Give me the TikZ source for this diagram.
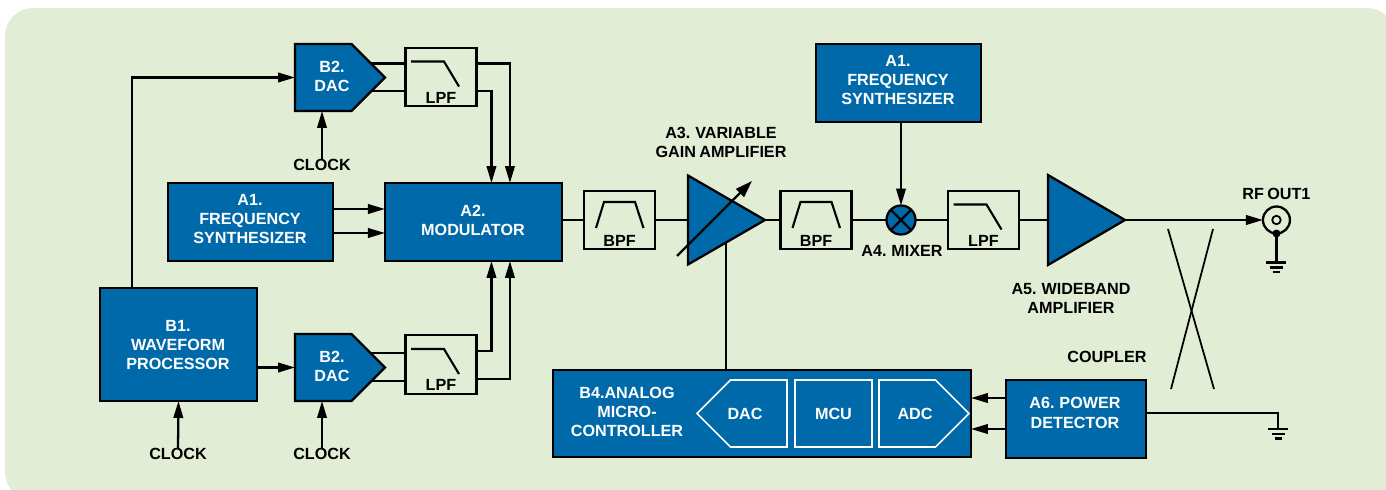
\documentclass[tikz,border=0pt]{standalone}
\usepackage{fontspec}
\setmainfont[WordSpace=0.75]{Liberation Sans}
\usetikzlibrary{positioning,shapes.geometric,shapes.symbols,arrows.meta}
\definecolor{panelgreen}{HTML}{E2EDD5}
\definecolor{blockblue}{HTML}{0069AA}
\begin{document}
\begin{tikzpicture}[x=0.02cm,y=-0.02cm,line width=1.3pt,outer sep=0pt,inner sep=0pt,
    font=\fontsize{9.2}{11}\selectfont\bfseries]
        \tikzstyle{block}=[rectangle, fill=blockblue, draw]
        \tikzstyle{dacblock}=[signal, signal to=east, signal pointer angle=90, fill=blockblue, draw, anchor=west, minimum width=1.8cm, minimum height=1.34cm]
        \tikzstyle{filt}=[rectangle, draw, minimum width=1.42cm, minimum height=1.17cm]
        \tikzstyle{amp}=[isosceles triangle, isosceles triangle stretches, shape border rotate=0, fill=blockblue, draw, minimum width=1.78cm, minimum height=1.54cm]
        \tikzstyle{innerbox}=[draw=white, line width=0.9pt, text=white, minimum height=1.34cm]
        \tikzstyle{tag}=[align=center, text=black]
        \tikzstyle{whitetag}=[align=center, text=white]
        \tikzstyle{wire}=[-{Triangle[length=3.4mm,width=1.9mm]}, line width=1.3pt]
        \useasboundingbox (0,0) rectangle (1386,490);
        \fill[panelgreen, rounded corners=0.56cm] (5,8) rectangle (1395,500);

        % top branch
        \node[dacblock] (DacTop) at (295,77.5) {};
        \node[whitetag] (DacTopName) at (332,76.5) {B2.\\DAC};
        \node[filt] (LpfTop) at (441,77) {};
        \node[tag] (LpfTopName) [above=0.06cm of LpfTop.south] {LPF};
        \node[tag] (ClockTop) at (322,165) {CLOCK};

        % middle row
        \node[block, minimum width=3.3cm, minimum height=1.56cm] (SynthLeft) at (250.5,222) {};
        \node[whitetag] (SynthLeftName) at (250,219) {A1.\\FREQUENCY\\SYNTHESIZER};
        \node[block, minimum width=3.54cm, minimum height=1.56cm] (Mod) [right=1.04cm of SynthLeft] {};
        \node[whitetag] (ModName) at (473,220.5) {A2.\\MODULATOR};
        \node[filt] (BpfOne) at (619.5,220) {};
        \node[tag] (BpfOneName) [above=0.06cm of BpfOne.south] {BPF};
        \node[amp] (AmpVar) [right=0.66cm of BpfOne] {};
        \node[filt] (BpfTwo) at (816,220) {};
        \node[tag] (BpfTwoName) [above=0.06cm of BpfTwo.south] {BPF};
        \node[circle, fill=blockblue, draw, minimum size=0.58cm] (Mix) at (901,220) {};
        \node[filt] (LpfMix) at (983.5,220) {};
        \node[tag] (LpfMixName) [above=0.06cm of LpfMix.south] {LPF};
        \node[amp, minimum width=1.8cm] (AmpWide) [right=0.58cm of LpfMix] {};
        \node[circle, draw, minimum size=0.54cm] (RfOut) [right=2.76cm of AmpWide] {};
        \node[circle, draw, line width=1pt, minimum size=0.17cm] (RfPin) at (RfOut) {};
        \node[circle, fill=black, minimum size=0.16cm] (RfDot) [below=0pt of RfOut.south, yshift=0.08cm] {};
        \coordinate[below=0.58cm of RfOut] (RfGnd);
        \node[tag] (RfName) [above=0.14cm of RfOut] {RF OUT1};
        \node[block, minimum width=3.3cm, minimum height=1.56cm] (SynthTop) at (898.5,83) {};
        \node[whitetag] (SynthTopName) at (898,80) {A1.\\FREQUENCY\\SYNTHESIZER};

        % lower left
        \node[block, minimum width=3.14cm, minimum height=2.26cm] (Wave) at (178.5,344.5) {};
        \node[whitetag] (WaveName) at (178,345) {B1.\\WAVEFORM\\PROCESSOR};
        \node[dacblock] (DacBot) at (295,367.5) {};
        \node[whitetag] (DacBotName) at (332,366.5) {B2.\\DAC};
        \node[filt] (LpfBot) at (441,364.5) {};
        \node[tag] (LpfBotName) [above=0.06cm of LpfBot.south] {LPF};
        \node[tag] (ClockWave) at (178,454) {CLOCK};
        \node[tag] (ClockBot) at (322,454) {CLOCK};

        % controller
        \node[block, minimum width=8.36cm, minimum height=1.74cm] (Ctrl) at (762,413.5) {};
        \node[whitetag] (CtrlName) at (627,412) {B4.ANALOG\\MICRO-\\CONTROLLER};
        \node[innerbox, signal, signal to=west, signal pointer angle=90, minimum width=1.8cm, anchor=east] (CtrlDac) at (787,413.5) {};
        \node[whitetag] (CtrlDacName) at (745,414) {DAC};
        \node[innerbox, minimum width=1.54cm] (CtrlMcu) [right=0.16cm of CtrlDac] {MCU};
        \node[innerbox, signal, signal to=east, signal pointer angle=90, minimum width=1.8cm] (CtrlAdc) [right=0.14cm of CtrlMcu] {};
        \node[whitetag] (CtrlAdcName) at (915,414) {ADC};
        \node[block, minimum width=2.8cm, minimum height=1.56cm] (Det) at (1076,419) {};
        \node[whitetag] (DetName) at (1075,413) {A6. POWER\\DETECTOR};
        \coordinate (DetGnd) at (1278,429);

        % labels
        \node[tag] (AmpVarName) at (721,142.5) {A3. VARIABLE\\GAIN AMPLIFIER};
        \node[tag] (MixName) at (902,251) {A4. MIXER};
        \node[tag] (AmpWideName) at (1071,298.5) {A5. WIDEBAND\\AMPLIFIER};
        \node[tag] (CouplerName) at (1107,357) {COUPLER};

        % connectors
        \draw[wire] (Wave.north -| 132,0) |- (DacTop.west);
        \draw[wire] (Wave.east |- DacBot.west) -- (DacBot.west);
        \draw[wire] (ClockTop.north) -- (ClockTop.north |- DacTop.south);
        \draw[wire] (ClockBot.north) -- (ClockBot.north |- DacBot.south);
        \draw[wire] (ClockWave.north) -- (Wave.south);
        \draw[wire] ([yshift=0.26cm]SynthLeft.east) -- ([yshift=0.26cm]Mod.west);
        \draw[wire] ([yshift=-0.22cm]SynthLeft.east) -- ([yshift=-0.22cm]Mod.west);
        \draw ([yshift=0.27cm]LpfTop.west) -- ++(-35,0);
        \draw ([yshift=-0.28cm]LpfTop.west) -- ++(-35,0);
        \draw ([yshift=0.23cm]LpfBot.west) -- ++(-35,0);
        \draw ([yshift=-0.33cm]LpfBot.west) -- ++(-35,0);
        \draw[wire] ([yshift=0.27cm]LpfTop.east) -| ([xshift=0.73cm]Mod.north);
        \draw[wire] ([yshift=-0.28cm]LpfTop.east) -| ([xshift=0.36cm]Mod.north);
        \draw[wire] ([yshift=0.27cm]LpfBot.east) -| ([xshift=0.36cm]Mod.south);
        \draw[wire] ([yshift=-0.29cm]LpfBot.east) -| ([xshift=0.73cm]Mod.south);
        \draw (Mod.east |- BpfOne.west) -- (BpfOne.west);
        \draw (BpfOne.east) -- (AmpVar.west);
        \draw (AmpVar.east) -- (BpfTwo.west);
        \draw (BpfTwo.east) -- (Mix.west);
        \draw (Mix.east) -- (LpfMix.west);
        \draw (LpfMix.east) -- (AmpWide.west);
        \draw[wire] (AmpWide.east) -- (RfOut.west);
        \draw[wire] (SynthTop.south -| Mix.north) -- (Mix.north);
        \draw (RfOut.south) -- (RfGnd);
        \draw (Ctrl.north -| 726,0) -- (726,243);
        \draw[wire] (Det.west |- 0,398) -- (Ctrl.east |- 0,398);
        \draw[wire] (Det.west |- 0,429) -- (Ctrl.east |- 0,429);
        \draw ([yshift=0.12cm]Det.east) -| (DetGnd);

        % filter curves
        \foreach \f in {LpfTop,LpfBot,LpfMix}
          \draw[line width=1.2pt] ([shift={(-30,-15.5)}]\f.center) -- ++(33,0) -- ++(15,25);
        \foreach \f in {BpfOne,BpfTwo}
          \draw[line width=1.2pt] ([shift={(-23.5,8)}]\f.center) -- ++(8,-26) -- ++(31,0) -- ++(8.5,26);

        % variable gain arrow, mixer cross
        \draw[-{Triangle[length=3.4mm,width=2.2mm]}] (677,256) -- (752,181);
        \draw (Mix.north west) -- (Mix.south east);
        \draw (Mix.north east) -- (Mix.south west);

        % coupler
        \draw[line width=1pt] (1168,229) -- (1214,389);
        \draw[line width=1pt] (1213,229) -- (1171,389);

        % grounds
        \foreach \g in {RfGnd,DetGnd} {
          \draw ([shift={(-10,0)}]\g) -- ++(20,0);
          \draw ([shift={(-6.5,5)}]\g) -- ++(13,0);
          \draw ([shift={(-3.5,9.5)}]\g) -- ++(7,0);
        }
      \end{tikzpicture}
\end{document}
